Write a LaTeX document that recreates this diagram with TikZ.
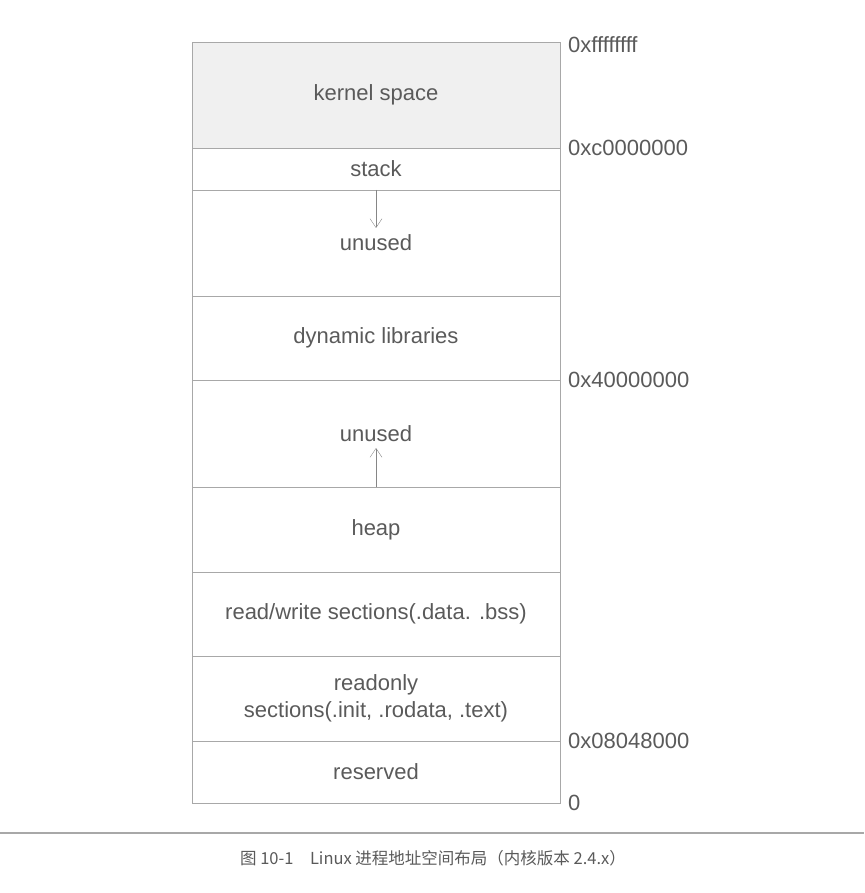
\documentclass[tikz,border=0pt]{standalone}
\usepackage{fontspec}
\setmainfont{Liberation Sans}
\newfontfamily\cjk{Noto Sans CJK SC}
\usetikzlibrary{positioning,arrows.meta}
\definecolor{inkgray}{HTML}{5A5A5A}
\definecolor{linegray}{HTML}{A8A8A8}
\tikzset{
  region/.style={draw=linegray,minimum width=368pt,inner sep=0pt,outer sep=0pt,
    text=inkgray,align=center,font=\fontsize{22}{27}\selectfont},
  addr/.style={anchor=west,inner sep=0pt,text=inkgray,
    font=\fontsize{22}{24}\selectfont},
  growarrow/.style={draw=linegray!80!black,-{Straight Barb[length=9pt,width=12pt]}}
}
\begin{document}
\begin{tikzpicture}[x=1pt,y=-1pt]
\useasboundingbox (0,0) rectangle (864,893);
% memory regions, top to bottom
\node[region,fill=gray!12,minimum height=106pt,anchor=north west] (kernel) at (192,42) {kernel space};
\node[region,minimum height=42pt,below=0pt of kernel] (stack) {stack};
\node[region,minimum height=106pt,below=0pt of stack] (unusedtop) {unused};
\node[region,minimum height=84pt,below=0pt of unusedtop] (dynlib) {dynamic libraries};
\node[region,minimum height=107pt,below=0pt of dynlib] (unusedmid) {unused};
\node[region,minimum height=85pt,below=0pt of unusedmid] (heap) {heap};
\node[region,minimum height=84pt,below=0pt of heap] (rwsec) {read/write sections(.data. .bss)};
\node[region,minimum height=85pt,below=0pt of rwsec] (rosec) {readonly\\sections(.init, .rodata, .text)};
\node[region,minimum height=62pt,below=0pt of rosec] (reserved) {reserved};
% addresses
\node[addr] (atop) at ([xshift=8pt,yshift=-3pt]kernel.north east) {0xffffffff};
\node[addr] (akernel) at ([xshift=8pt]kernel.south east) {0xc0000000};
\node[addr] (amap) at ([xshift=8pt]dynlib.south east) {0x40000000};
\node[addr] (atext) at ([xshift=8pt]rosec.south east) {0x08048000};
\node[addr] (azero) at ([xshift=8pt]reserved.south east) {0};
% growth directions
\coordinate[below=38pt of unusedtop.north] (stacktip);
\draw[growarrow] (unusedtop.north) -- (stacktip);
\coordinate[above=39pt of heap.north] (heaptip);
\draw[growarrow] (heap.north) -- (heaptip);
% caption
\draw[linegray,line width=1.5pt] (0,833) -- (864,833);
\node[text=inkgray,font=\cjk\fontsize{16.5}{18}\selectfont] (caption) at (433,858)
  {图 10-1\quad Linux 进程地址空间布局（内核版本 2.4.x）};
\end{tikzpicture}
\end{document}
